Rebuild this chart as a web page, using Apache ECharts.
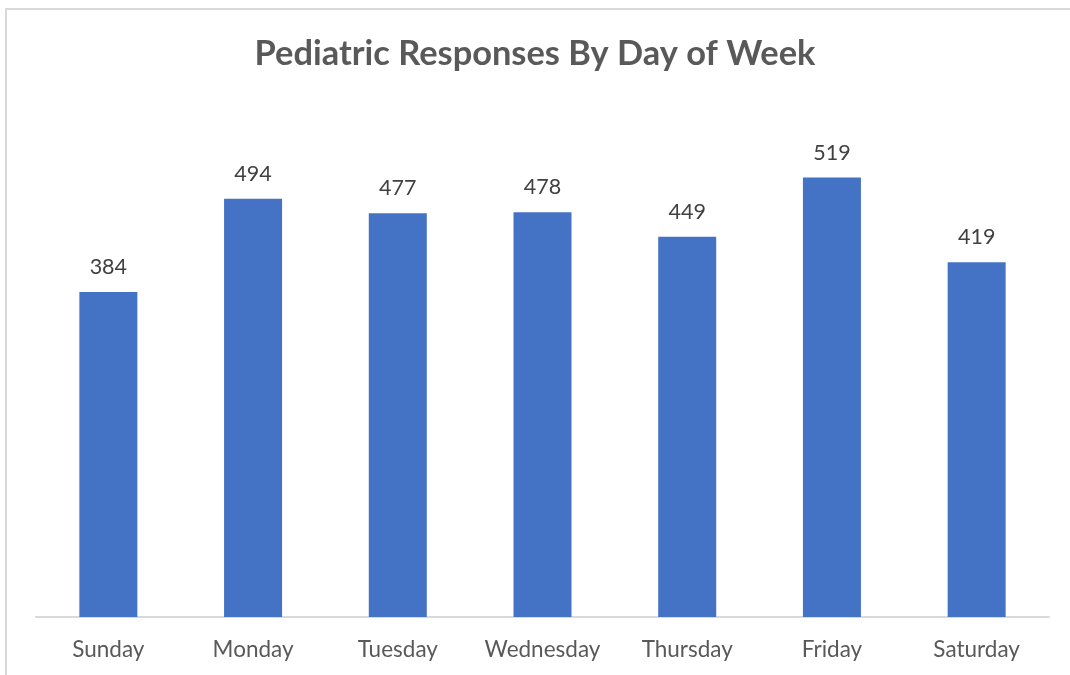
<!DOCTYPE html>
<html>
<head>
<meta charset="utf-8">
<script src="https://cdn.jsdelivr.net/npm/echarts@6/dist/echarts.min.js"></script>
<style>
html,body{margin:0;padding:0;background:#fff;}
#frame{position:absolute;left:5px;top:8px;width:1100px;height:700px;border-left:2px solid #d9d9d9;border-top:2px solid #d9d9d9;box-sizing:border-box;}
#chart{position:absolute;left:0;top:0;width:1070px;height:675px;}
</style>
</head>
<body>
<div id="frame"></div>
<div id="chart"></div>
<script>
const titleText = 'Pediatric Responses By Day of Week';
const categories = ['Sunday','Monday','Tuesday','Wednesday','Thursday','Friday','Saturday'];
const responses = [384, 494, 477, 478, 449, 519, 419];

const chart = echarts.init(document.getElementById('chart'), null, {renderer:'canvas'});
chart.setOption({
  backgroundColor: 'transparent',
  animation: false,
  title: {
    text: titleText,
    left: 'center',
    top: 32,
    textStyle: {fontFamily: 'Lato', fontWeight: 'bold', fontSize: 34.4, color: '#595959'}
  },
  grid: {left: 36, right: 21, top: 109, bottom: 58, containLabel: false},
  xAxis: {
    type: 'category',
    data: categories,
    axisLine: {show: true, lineStyle: {color: '#d9d9d9', width: 2}},
    axisTick: {show: false},
    axisLabel: {interval: 0, hideOverlap: false, fontFamily: 'Lato', fontSize: 22.5, color: '#595959', margin: 21}
  },
  yAxis: {
    type: 'value',
    min: 0, max: 600, interval: 100,
    show: false,
    splitLine: {show: false}
  },
  series: [{
    type: 'bar',
    data: responses,
    barWidth: 58,
    itemStyle: {color: '#4472c4'},
    label: {show: true, position: 'top', distance: 14, fontFamily: 'Lato', fontSize: 21.5, color: '#404040'}
  }]
});
</script>
</body>
</html>
